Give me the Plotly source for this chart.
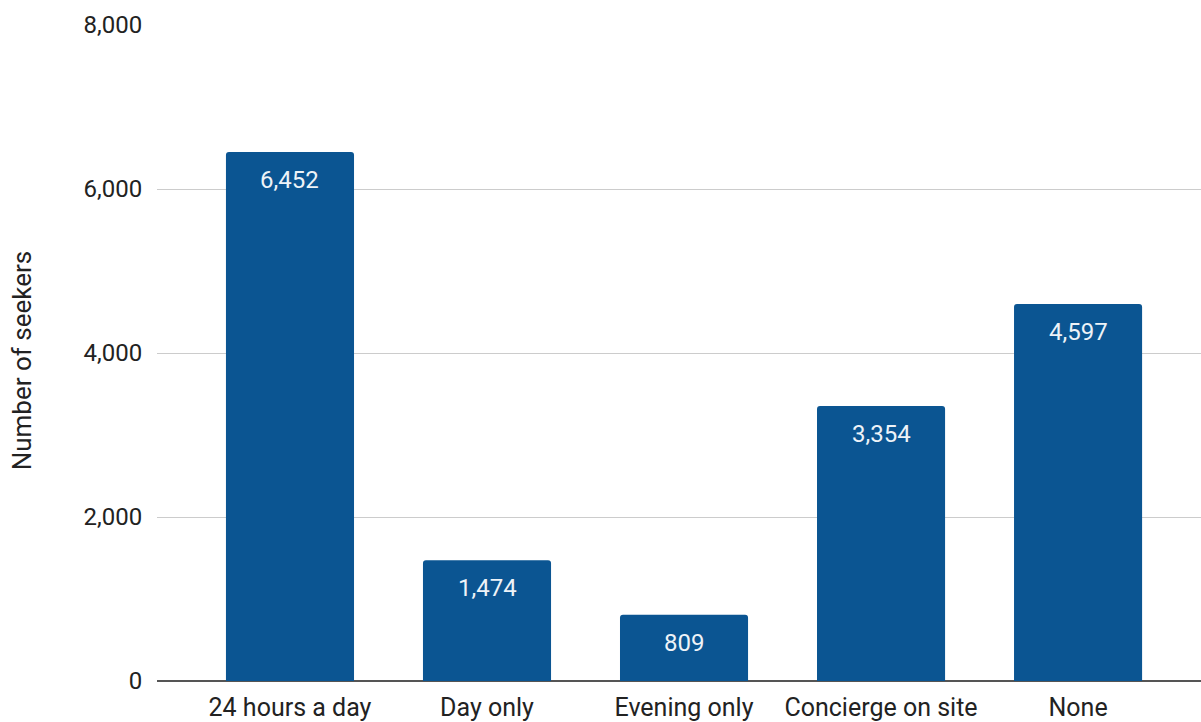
import plotly.graph_objects as go

categories = ["24 hours a day", "Day only", "Evening only", "Concierge on site", "None"]
seekers = [6452, 1474, 809, 3354, 4597]
y_ticks = [0, 2000, 4000, 6000, 8000]
y_tick_labels = ["0", "2,000", "4,000", "6,000", "8,000"]

BAR_COLOR = "#0b5592"
TEXT_COLOR = "#222222"
FONT = "Roboto"

x_pos = list(range(len(categories)))

fig = go.Figure(
    go.Bar(
        x=x_pos,
        y=seekers,
        width=0.65,
        marker=dict(color=BAR_COLOR, line=dict(width=0)),
        hoverinfo="x+y",
    )
)

# value labels sitting just inside the top of each bar
for xi, v in zip(x_pos, seekers):
    fig.add_annotation(
        x=xi, y=v, xref="x", yref="y",
        text=f"{v:,}",
        showarrow=False,
        yanchor="top",
        yshift=-12,
        font=dict(family=FONT, size=24, color="#eef3f8"),
    )

# vertical axis title, placed to the left of the tick labels
fig.add_annotation(
    x=0, y=0.488, xref="paper", yref="paper",
    xshift=-135.5,
    xanchor="center", yanchor="middle",
    text="Number of seekers",
    textangle=-90,
    showarrow=False,
    font=dict(family=FONT, size=26, color=TEXT_COLOR),
)

fig.update_layout(
    width=1201,
    height=722,
    margin=dict(l=157, r=0, t=25, b=41, autoexpand=False),
    paper_bgcolor="white",
    plot_bgcolor="white",
    font=dict(family=FONT, size=24, color=TEXT_COLOR),
    showlegend=False,
    barcornerradius=3,
    xaxis=dict(
        range=[-0.675, 4.624],
        tickmode="array",
        tickvals=x_pos,
        ticktext=categories,
        showgrid=False,
        zeroline=False,
        showline=False,
        ticks="outside",
        ticklen=4,
        tickcolor="rgba(0,0,0,0)",
        tickfont=dict(family=FONT, size=25, color=TEXT_COLOR),
        automargin=False,
    ),
    yaxis=dict(
        range=[0, 8000],
        tickmode="array",
        tickvals=y_ticks,
        ticktext=y_tick_labels,
        showgrid=True,
        gridcolor="#cccccc",
        gridwidth=1,
        zeroline=True,
        zerolinecolor="#555555",
        zerolinewidth=1.5,
        showline=False,
        ticks="outside",
        ticklen=9,
        tickcolor="rgba(0,0,0,0)",
        tickfont=dict(family=FONT, size=24, color=TEXT_COLOR),
        automargin=False,
    ),
)

fig.write_html("out.html")
